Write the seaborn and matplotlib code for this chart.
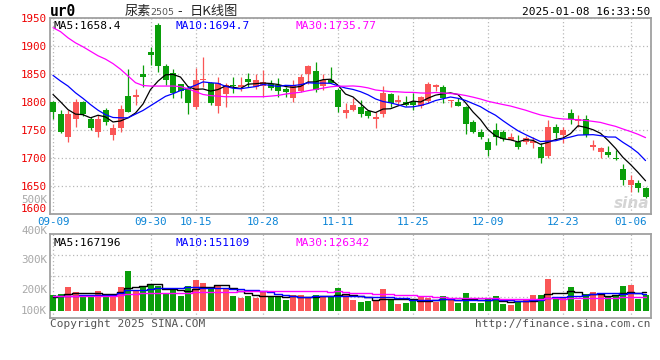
import numpy as np
import pandas as pd
import matplotlib
matplotlib.use("Agg")
import matplotlib.pyplot as plt
import seaborn as sns

# trading days 2024-09-09 .. 2025-01-08 (CN holidays removed)
holidays = ["2024-09-16", "2024-09-17", "2024-10-01", "2024-10-02", "2024-10-03",
            "2024-10-04", "2024-10-07", "2025-01-01"]
days = pd.bdate_range("2024-09-09", "2025-01-08")
days = days[~days.isin(pd.to_datetime(holidays))]
dates = [d.strftime("%m-%d") for d in days]
tick_labels = ["09-09", "09-30", "10-15", "10-28", "11-11", "11-25", "12-09", "12-23", "01-06"]

# OHLC
opens = [1799, 1779, 1738, 1770, 1799, 1770, 1747, 1785, 1740, 1754,
         1810, 1809, 1849, 1889, 1937, 1863, 1851, 1831, 1825, 1790,
         1839, 1834, 1792, 1814, 1830, 1827, 1841, 1826, 1828, 1831,
         1830, 1822, 1806, 1820, 1849, 1854, 1828, 1839, 1821, 1780,
         1786, 1791, 1784, 1770, 1779, 1814, 1799, 1800, 1799, 1792,
         1802, 1827, 1827, 1801, 1800, 1791, 1764, 1747, 1729, 1749,
         1747, 1732, 1729, 1729, 1726, 1720, 1703, 1755, 1740, 1780,
         1765, 1769, 1720, 1710, 1711, 1700, 1680, 1651, 1655, 1646]
highs = [1802, 1785, 1785, 1805, 1802, 1773, 1776, 1789, 1760, 1795,
         1859, 1823, 1865, 1898, 1940, 1867, 1859, 1832, 1828, 1861,
         1879, 1836, 1845, 1833, 1845, 1845, 1851, 1849, 1856, 1838,
         1843, 1827, 1838, 1850, 1866, 1870, 1849, 1862, 1824, 1798,
         1806, 1804, 1786, 1781, 1828, 1816, 1812, 1810, 1815, 1810,
         1836, 1832, 1830, 1804, 1806, 1792, 1767, 1751, 1735, 1763,
         1749, 1744, 1741, 1739, 1738, 1726, 1767, 1761, 1755, 1787,
         1776, 1777, 1732, 1720, 1722, 1714, 1689, 1670, 1661, 1649]
lows = [1770, 1744, 1729, 1755, 1774, 1749, 1737, 1758, 1731, 1747,
        1782, 1794, 1827, 1865, 1853, 1830, 1806, 1806, 1779, 1787,
        1827, 1795, 1780, 1790, 1816, 1820, 1827, 1822, 1810, 1821,
        1809, 1809, 1800, 1818, 1832, 1818, 1821, 1833, 1782, 1771,
        1783, 1772, 1771, 1753, 1773, 1790, 1794, 1792, 1785, 1789,
        1797, 1820, 1797, 1790, 1792, 1743, 1744, 1734, 1703, 1723,
        1730, 1731, 1716, 1724, 1718, 1690, 1699, 1735, 1726, 1761,
        1755, 1738, 1714, 1699, 1702, 1696, 1651, 1639, 1640, 1628]
closes = [1782, 1746, 1779, 1799, 1779, 1754, 1769, 1764, 1754, 1788,
          1782, 1812, 1844, 1883, 1863, 1838, 1816, 1820, 1798, 1839,
          1841, 1797, 1834, 1830, 1828, 1829, 1836, 1838, 1836, 1824,
          1820, 1818, 1830, 1845, 1863, 1821, 1838, 1834, 1791, 1785,
          1795, 1778, 1774, 1772, 1816, 1798, 1803, 1794, 1795, 1808,
          1832, 1830, 1806, 1803, 1793, 1760, 1747, 1738, 1714, 1737,
          1734, 1738, 1719, 1735, 1730, 1699, 1755, 1744, 1749, 1769,
          1769, 1741, 1723, 1717, 1706, 1698, 1660, 1660, 1647, 1631]
# volume (K lots)
volumes = [142, 151, 213, 169, 124, 142, 178, 151, 151, 213,
           357, 187, 213, 231, 222, 151, 187, 133, 222, 276,
           249, 196, 231, 205, 133, 115, 133, 115, 169, 124,
           124, 97, 142, 142, 124, 142, 124, 124, 205, 151,
           97, 79, 88, 88, 196, 106, 62, 70, 88, 124,
           115, 79, 133, 106, 70, 160, 70, 70, 106, 133,
           62, 53, 79, 106, 142, 142, 285, 124, 124, 213,
           97, 151, 169, 142, 133, 133, 222, 231, 106, 142]

# moving-average values before enough visible days exist
ma5_head = [1813, 1800, 1786, 1778]
ma10_head = [1847, 1837, 1828, 1816, 1806, 1795, 1785, 1777, 1772]
ma30_head = [1932, 1925, 1914, 1905, 1898, 1890, 1882, 1876, 1868, 1858,
             1846, 1834, 1829, 1828, 1828, 1828, 1828, 1827, 1823, 1818,
             1813, 1811, 1810, 1809, 1809, 1809, 1809, 1809, 1809]
vma5_head = [128, 134, 149, 158]
vma10_head = [137, 137, 138, 139, 140, 141, 143, 145, 148]
vma30_head = [134, 134, 134, 134, 134, 134, 134, 134, 134, 140,
              150, 155, 160, 160, 160, 160, 160, 162, 164, 166,
              168, 170, 172, 173, 174, 175, 176, 177, 178]

RED = "#fa5656"
GREEN = "#0a9e0a"
GRID = "#b8b8b8"
FRAME = "#a0a0a0"
MA_COLORS = {"MA5": "black", "MA10": "#0000ff", "MA30": "#ff00ff"}

df = pd.DataFrame({"date": dates, "open": opens, "high": highs, "low": lows,
                   "close": closes, "vol": np.array(volumes) * 1000.0})
df["idx"] = np.arange(len(df))


def with_head(s, n, head):
    m = s.rolling(n).mean()
    m.iloc[:len(head)] = head
    return m


df["MA5"] = with_head(df["close"], 5, ma5_head)
df["MA10"] = with_head(df["close"], 10, ma10_head)
df["MA30"] = with_head(df["close"], 30, ma30_head)
df["VMA5"] = with_head(df["vol"], 5, np.array(vma5_head) * 1000.0)
df["VMA10"] = with_head(df["vol"], 10, np.array(vma10_head) * 1000.0)
df["VMA30"] = with_head(df["vol"], 30, np.array(vma30_head) * 1000.0)

sns.set_theme(style="white")
plt.rcParams["font.family"] = ["DejaVu Sans Mono", "Noto Sans CJK SC"]
MONO = ["DejaVu Sans Mono"]
CJK = ["Noto Sans CJK SC", "DejaVu Sans"]

W, H = 660, 360
fig = plt.figure(figsize=(6.6, 3.6), dpi=100)
fig.patch.set_facecolor("white")


def px_axes(x0, y0, x1, y1):
    return fig.add_axes([x0 / W, 1 - y1 / H, (x1 - x0) / W, (y1 - y0) / H])


ax = px_axes(50, 17.6, 651, 214)
axv = px_axes(50, 234.3, 651, 318.3)

up = df["close"] >= df["open"]
cols = np.where(up, RED, GREEN)
tick_idx = [dates.index(t) for t in tick_labels]

# ---- price panel ----
ax.vlines(df["idx"], df["low"], df["high"], colors=cols, lw=0.9, zorder=3)
body = np.maximum((df["close"] - df["open"]).abs(), 1.6)
ax.bar(df["idx"], body, bottom=np.minimum(df["open"], df["close"]),
       width=0.8, color=cols, linewidth=0, zorder=4)

ma_long = df.melt(id_vars="idx", value_vars=["MA5", "MA10", "MA30"],
                  var_name="ma", value_name="val")
sns.lineplot(data=ma_long, x="idx", y="val", hue="ma", palette=MA_COLORS,
             legend=False, lw=0.9, ax=ax, zorder=5)

ax.set_xlim(-0.4, 79.73)
ax.set_ylim(1600, 1950)
ax.set_yticks(range(1600, 1951, 50))
ax.set_yticklabels([str(v) for v in range(1600, 1951, 50)], color="#ee0000",
                   fontsize=7.8, family=MONO)
ax.set_xticks(tick_idx)
ax.set_xticklabels(tick_labels, color="#0a84d6", fontsize=7.8, family=MONO)
ax.tick_params(length=0, pad=2.5)
ax.grid(True, color=GRID, ls=(0, (1, 2)), lw=0.9)
ax.set_xlabel("")
ax.set_ylabel("")
for s in ax.spines.values():
    s.set_color(FRAME)
    s.set_linewidth(1.3)
# pull the bottom price label up a little, as in the source
ax.get_yticklabels()[0].set_va("bottom")

ax.text(0.005, 0.985, "MA5:1658.4", transform=ax.transAxes, color="black",
        fontsize=8, va="top", family=MONO)
ax.text(0.208, 0.985, "MA10:1694.7", transform=ax.transAxes, color="#0000ff",
        fontsize=8, va="top", family=MONO)
ax.text(0.408, 0.985, "MA30:1735.77", transform=ax.transAxes, color="#ff00ff",
        fontsize=8, va="top", family=MONO)
ax.text(77.2, 1618, "sina", color="#d4d4d4", fontsize=11, style="italic",
        fontweight="bold", family=["DejaVu Sans"], ha="center", va="center", zorder=2)

# ---- volume panel ----
axv.bar(df["idx"], df["vol"], width=0.8, color=cols, linewidth=0, zorder=3)
vma_long = df.melt(id_vars="idx", value_vars=["VMA5", "VMA10", "VMA30"],
                   var_name="ma", value_name="val")
vma_long["ma"] = vma_long["ma"].str[1:]
sns.lineplot(data=vma_long, x="idx", y="val", hue="ma", palette=MA_COLORS,
             legend=False, lw=1.0, drawstyle="steps-mid", ax=axv, zorder=5)
axv.set_xlim(-0.4, 79.73)
axv.set_ylim(-65000, 687000)
axv.set_xticks(tick_idx)
axv.set_xticklabels([])
axv.set_yticks([])
axv.tick_params(length=0)
axv.set_xlabel("")
axv.set_ylabel("")
axv.grid(True, axis="x", color=GRID, ls=(0, (1, 2)), lw=0.9)
for f in (0.25, 0.5, 0.75):
    axv.axhline(-65000 + f * 752000, color=GRID, ls=(0, (1, 2)), lw=0.9, zorder=1)
for s in axv.spines.values():
    s.set_color(FRAME)
    s.set_linewidth(1.3)

axv.text(0.005, 0.96, "MA5:167196", transform=axv.transAxes, color="black",
         fontsize=8, va="top", family=MONO)
axv.text(0.208, 0.96, "MA10:151109", transform=axv.transAxes, color="#0000ff",
         fontsize=8, va="top", family=MONO)
axv.text(0.408, 0.96, "MA30:126342", transform=axv.transAxes, color="#ff00ff",
         fontsize=8, va="top", family=MONO)

# volume scale labels (as drawn by the source chart)
for lab, ypx in [("500K", 200), ("400K", 231), ("300K", 260), ("200K", 290), ("100K", 311)]:
    fig.text(47 / W, 1 - ypx / H, lab, color="#a8a8a8", fontsize=7.8, family=MONO,
             ha="right", va="center")

# ---- header / footer ----
fig.text(50 / W, 1 - 12 / H, "ur0", fontsize=10.5, fontweight="bold", family=MONO,
         va="center", ha="left", color="black")
fig.text(125 / W, 1 - 12 / H, "尿素", fontsize=9.5, family=CJK, va="center", ha="left")
fig.text(150 / W, 1 - 12.5 / H, "2505", fontsize=6.8, family=["DejaVu Sans"],
         va="center", ha="left", color="#555555")
fig.text(177 / W, 1 - 12 / H, "-", fontsize=9.5, family=CJK, va="center", ha="left")
fig.text(190 / W, 1 - 12 / H, "日K线图", fontsize=9.5, family=CJK, va="center", ha="left")
fig.text(650 / W, 1 - 12 / H, "2025-01-08 16:33:50", fontsize=8, family=MONO,
         va="center", ha="right", color="black")
fig.text(50 / W, 1 - 324 / H, "Copyright 2025 SINA.COM", fontsize=8, family=MONO,
         va="center", ha="left", color="#555555")
fig.text(650 / W, 1 - 324 / H, "http://finance.sina.com.cn", fontsize=8, family=MONO,
         va="center", ha="right", color="#555555")

fig.savefig("out.png", dpi=100, facecolor="white")
